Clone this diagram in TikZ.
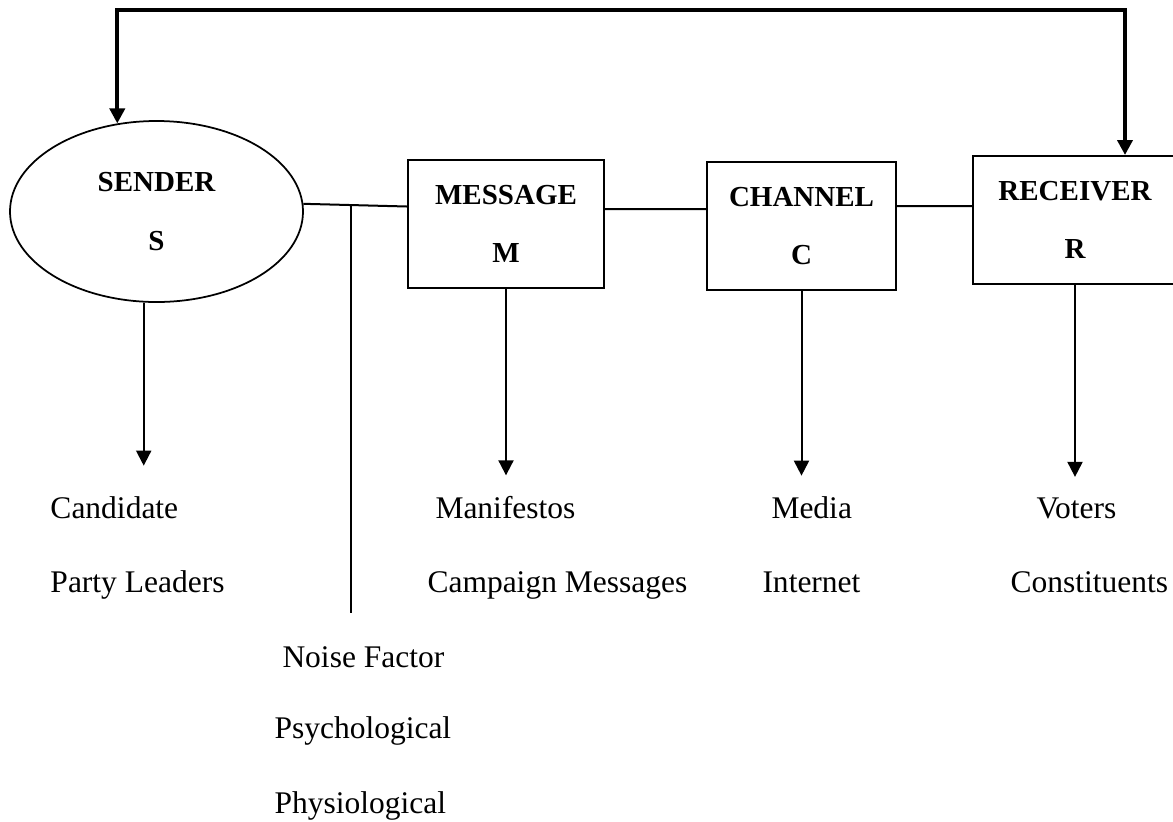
\documentclass[tikz,border=0pt]{standalone}
\usepackage{fontspec}
\setmainfont{Liberation Serif}
\usetikzlibrary{arrows.meta, shapes.geometric}
\tikzset{
	>={Triangle[width=6pt,length=6pt]}, % solid triangular tips
	part/.style={draw, line width=0.8pt, minimum height=51.2pt, inner sep=0pt, align=center, font=\bfseries\fontsize{11.6}{23.4}\selectfont}, % S, M, C, R blocks
	lbl/.style={anchor=base west, inner xsep=0pt, inner ysep=8pt, font=\fontsize{12.6}{15}\selectfont}, % texts under the blocks
	link/.style={line width=0.8pt}, % plain connectors
	feedback/.style={line width=1.6pt} % thick loop on top
}

\begin{document}
\begin{tikzpicture}[x=0.4pt, y=-0.4pt]
	\useasboundingbox (0,0) rectangle (1173,821);
	\node[part, ellipse, minimum width=117.2pt, minimum height=72.4pt, line width=0.7pt] (sender) at (156.5,211.5) {SENDER\\S};
	\node[part, minimum width=78.4pt] (msg) at (506,224) {MESSAGE\\M};
	\node[part, minimum width=75.6pt] (chn) at (801.5,226) {CHANNEL\\C};
	\node[part, minimum width=81.6pt] (rcv) at (1075,220) {RECEIVER\\R};

	\node[lbl] (cand) at (50,518) {Candidate};
	\node[lbl] (party) at (50,592) {Party Leaders};
	\node[lbl] (manif) at (435,518) {Manifestos};
	\node[lbl] (campaign) at (427,592) {Campaign Messages};
	\node[lbl] (media) at (771,518) {Media};
	\node[lbl] (internet) at (762,592) {Internet};
	\node[lbl] (voters) at (1036,518) {Voters};
	\node[lbl] (constit) at (1010,592) {Constituents};
	\node[lbl] (noise) at (282,667) {Noise Factor};
	\node[lbl] (psycho) at (274,738) {Psychological};
	\node[lbl] (physio) at (274,813) {Physiological};

	\coordinate (ntop) at (351,205);
	\coordinate (nbot) at (351,613);
	\coordinate (fbR) at (1125,10);

	\draw[link]	(sender.3) edge ([yshift=7pt]msg.west)
			([yshift=6pt]msg.east) edge ([yshift=6.8pt]chn.west)
			([yshift=8pt]chn.east) edge ([yshift=5.6pt]rcv.west)
			(ntop) edge (nbot)
			(sender.262) edge[->, shorten >=4pt] (sender.262 |- cand.north)
			(msg.south) edge[->] (msg.south |- manif.north)
			(chn.south) edge[->] (chn.south |- media.north)
			(rcv.south) edge[->] (rcv.south |- voters.north);
	\draw[feedback, <->] (sender.114) |- (fbR) -- (fbR |- rcv.north);
\end{tikzpicture}
\end{document}
